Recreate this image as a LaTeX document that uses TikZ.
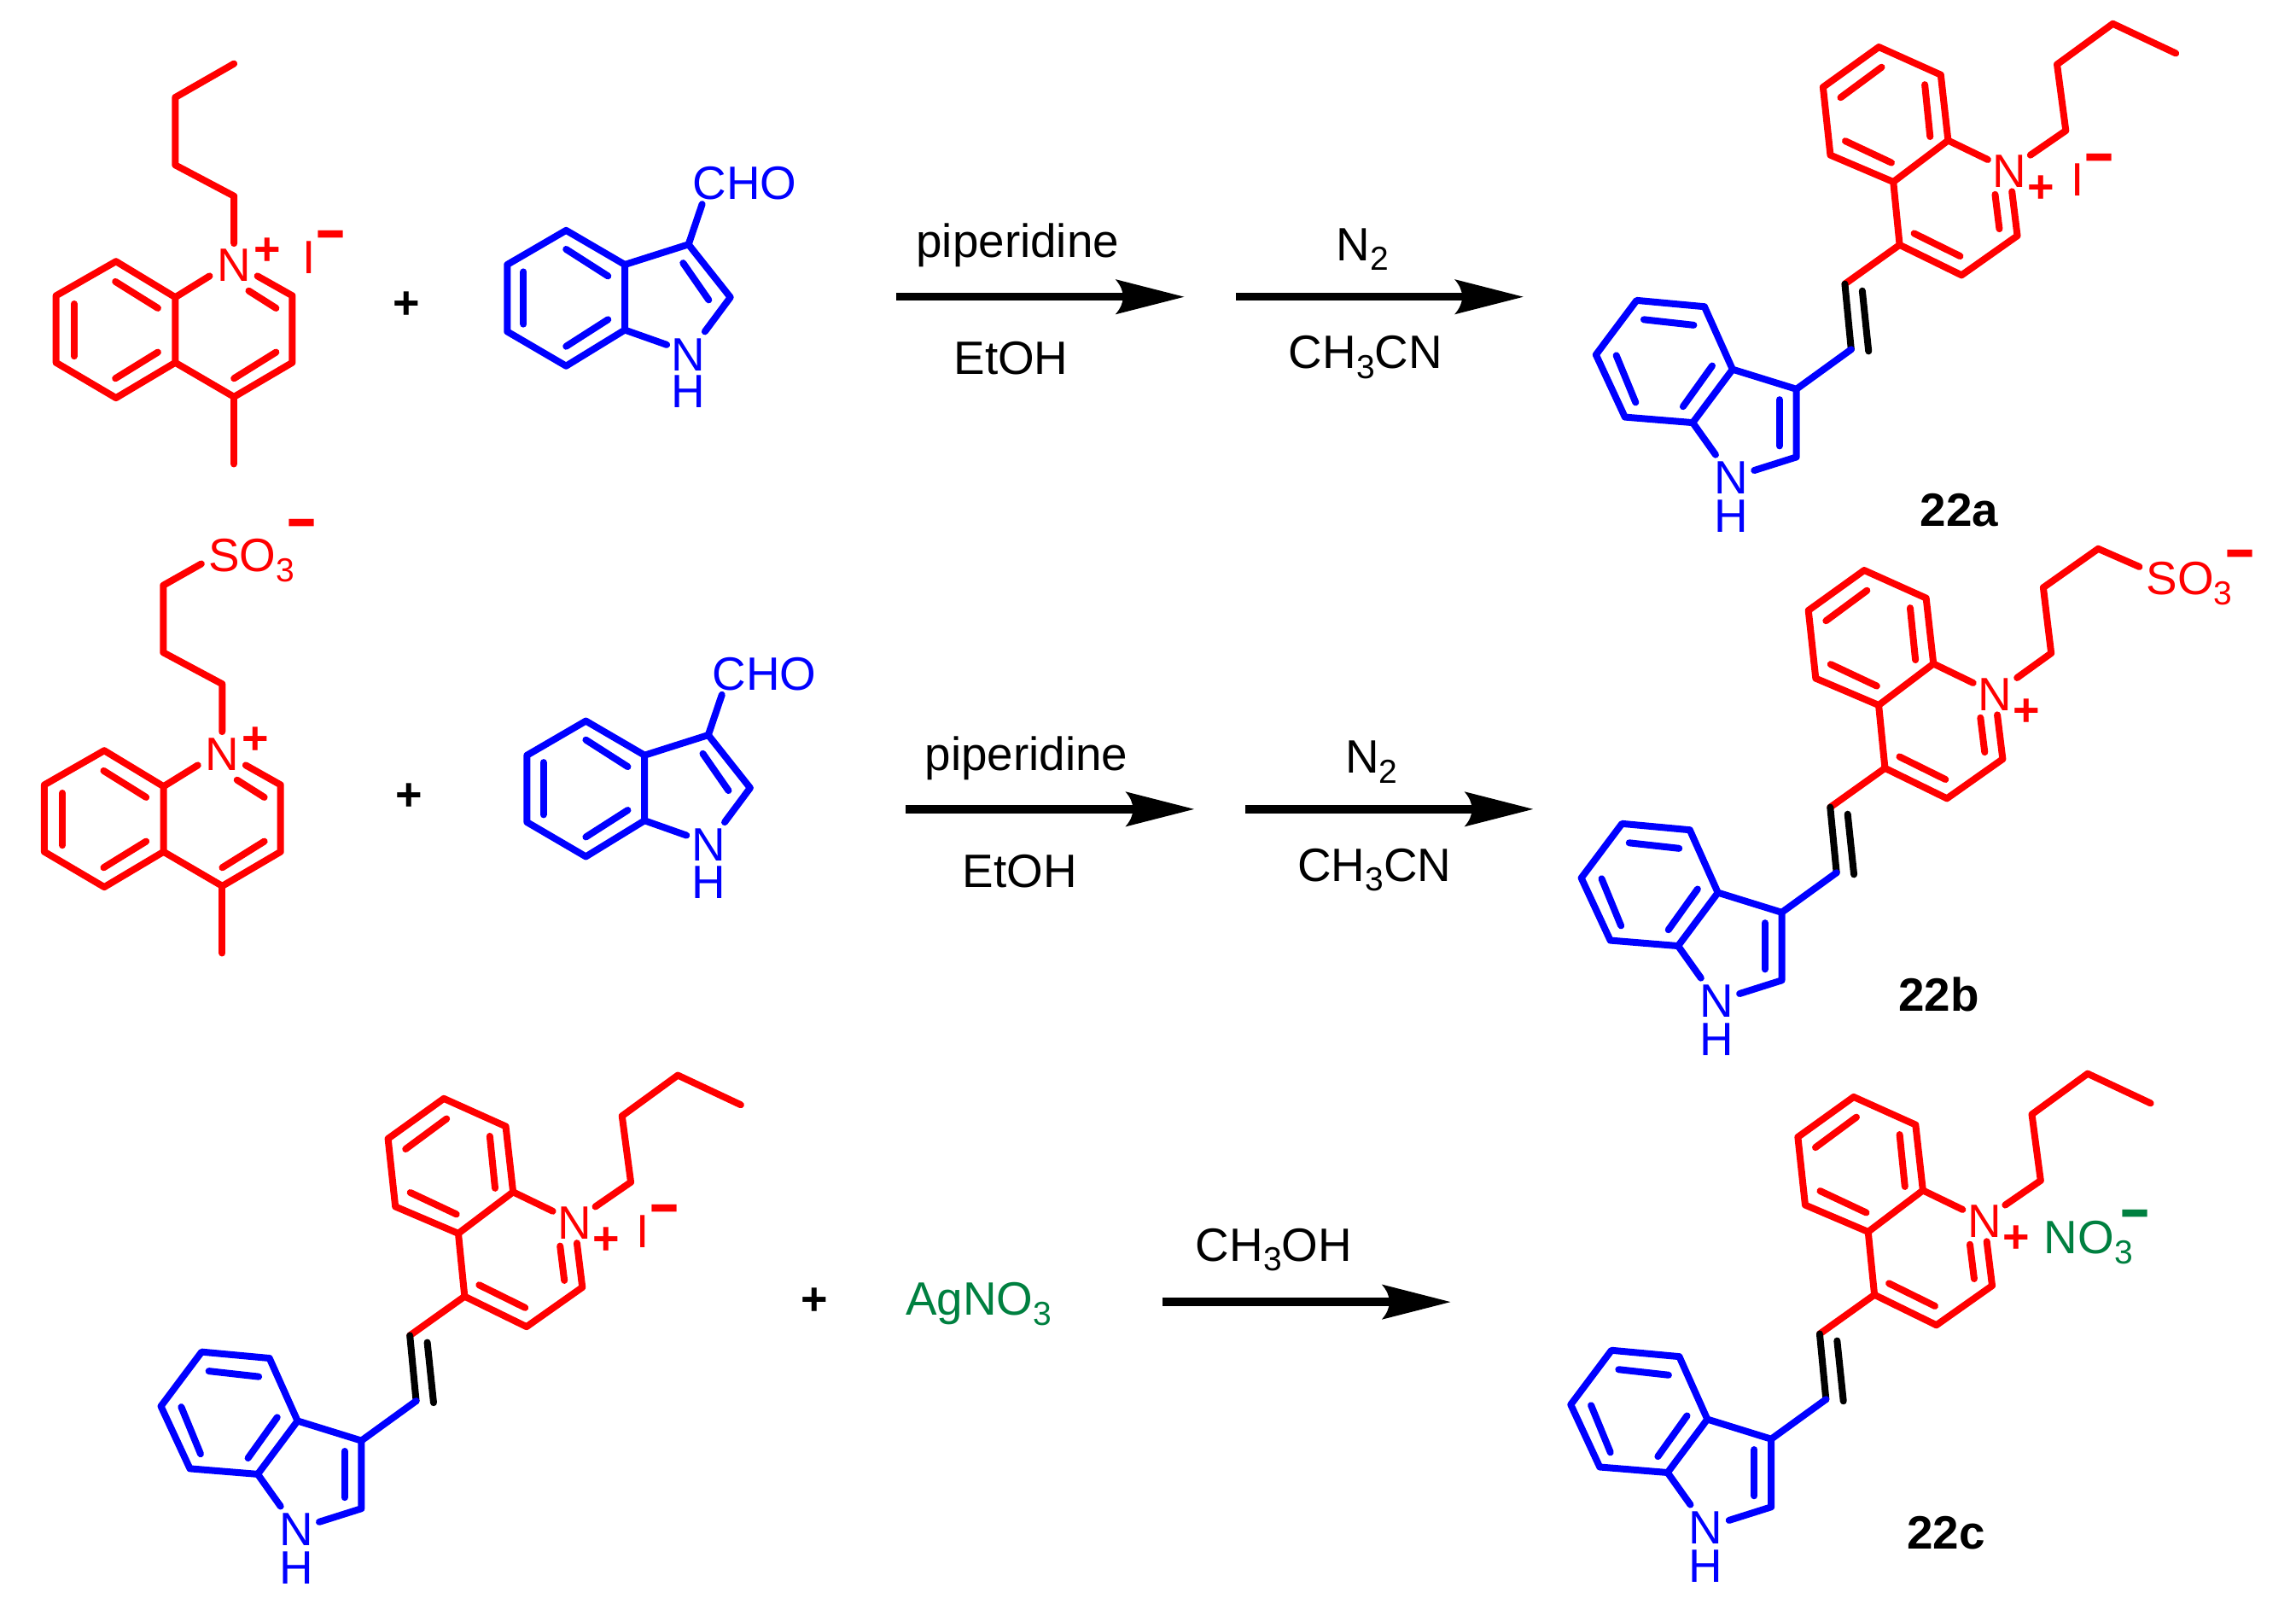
\documentclass[tikz,border=0pt]{standalone}
\usepackage{fontspec}
\usepackage{graphicx}
\setmainfont{Liberation Sans}
\usetikzlibrary{calc}
\definecolor{cred}{RGB}{255,0,0}
\definecolor{cblue}{RGB}{0,0,255}
\definecolor{cgreen}{RGB}{0,128,64}
\newcommand{\chsub}[1]{\raisebox{-5.8pt}{\fontsize{19.5}{19.5}\selectfont #1}}
\newcommand{\chminus}{\scalebox{1.12}[1.5]{−}}
\tikzset{
 rb/.style={draw=cred,line width=4pt,line cap=round,line join=round},
 bb/.style={draw=cblue,line width=4pt,line cap=round,line join=round},
 kb/.style={draw=black,line width=4pt,line cap=round,line join=round},
 lab/.style={inner sep=0pt,outer sep=0pt,anchor=base,yshift=-9.8pt,font=\fontsize{27.4}{27.4}\selectfont},
 rlab/.style={lab,text=cred},
 blab/.style={lab,text=cblue},
 klab/.style={lab,text=black},
 glab/.style={lab,text=cgreen},
 nlab/.style={inner sep=0pt,anchor=base,yshift=-9.8pt,font=\bfseries\fontsize{27.4}{27.4}\selectfont},
 chg/.style={inner sep=0pt,anchor=base,yshift=-9pt,font=\bfseries\fontsize{27}{27}\selectfont},
 chm/.style={inner sep=0pt,anchor=base,yshift=-12.9pt,font=\bfseries\fontsize{26}{26}\selectfont},
 rxn/.style={draw=black,line width=4.7pt},
}
% arrow from named start to named tip
\newcommand{\rxnarrow}[2]{%
 \draw[rxn] (#1) -- ($(#2)+(-38,0)$);
 \fill[black] (#2) -- ($(#2)+(-47,-12)$) .. controls ($(#2)+(-40,-4)$) and ($(#2)+(-40,4)$) .. ($(#2)+(-47,12)$) -- cycle;
}
% quinolinium-vinyl-indole, drawn at the coordinates of 22a
\newcommand{\conj}{%
 \coordinate (a) at (1283.1,32.1); \coordinate (b) at (1325.4,51.1);
 \coordinate (c) at (1330.4,95.9); \coordinate (d) at (1293,124.2);
 \coordinate (e) at (1250,105.9); \coordinate (f) at (1245,59.5);
 \coordinate (g) at (1297.3,167.2); \coordinate (h) at (1339.6,187.9);
 \coordinate (i) at (1377.7,161);
 \coordinate (v1) at (1259.9,193.9); \coordinate (v2) at (1264.2,238.6);
 \coordinate (w) at (1226.8,265.7); \coordinate (x) at (1183.2,252.2);
 \coordinate (y) at (1156,288.6); \coordinate (z) at (1109.7,284.8);
 \coordinate (p) at (1089.9,242.2); \coordinate (q) at (1117.7,205.1);
 \coordinate (r) at (1164,209.4); \coordinate (s) at (1226.8,312.1);
 \node[rlab] (Nq) at (1372.4,116.6) {N};
 \node[blab] (Ni) at (1182.2,326) {N};
 \node[blab] (Hi) at (1182.2,352) {H};
 \path[rb] (a)--(b)--(c)--(d)--(e)--(f)--cycle;
 \path[rb] (d)--(g)--(h)--(i)--(1374,130.8);
 \path[rb] (c)--(1357.5,109);
 \path[rb] (1362.5,132.8)--(1365.4,156.3);
 \path[rb] (1285,45.9)--(1257,66.6);
 \path[rb] (1314.5,57.8)--(1318.1,93.3);
 \path[rb] (1291.7,111.1)--(1260.2,96.3);
 \path[rb] (1338.6,174.9)--(1307.2,159.4);
 \path[rb] (g)--(v1);
 \path[kb] (v1)--(v2);
 \path[kb] (1271.8,198.6)--(1276.1,239.8);
 \path[bb] (v2)--(w)--(x)--(y)--(z)--(p)--(q)--(r)--(x);
 \path[bb] (w)--(s)--(1198,321.2);
 \path[bb] (y)--(1171.6,310.5);
 \path[bb] (1156.7,222)--(1122.6,218.2);
 \path[bb] (1103.8,242.7)--(1117,274.8);
 \path[bb] (1169.3,249.8)--(1149.4,277.6);
 \path[bb] (1215.3,272.9)--(1215.3,304.5);
}
% 4-methylquinolinium ring at the coordinates of reactant 1
\newcommand{\lepid}{%
 \coordinate (a) at (79.2,178.5); \coordinate (b) at (119.7,203);
 \coordinate (c) at (119.7,247.6); \coordinate (d) at (79.2,271.7);
 \coordinate (e) at (38.3,247.6); \coordinate (f) at (38.3,201.9);
 \coordinate (g) at (159.8,271); \coordinate (h) at (199.6,247.6);
 \coordinate (i) at (199.6,201.9); \coordinate (me) at (159.8,316.8);
 \node[rlab] (Nq) at (159.8,180.7) {N};
 \path[rb] (a)--(b)--(c)--(d)--(e)--(f)--cycle;
 \path[rb] (c)--(g)--(h)--(i)--(175.8,188.5);
 \path[rb] (b)--(143.1,188.5);
 \path[rb] (g)--(me);
 \path[rb] (50.6,207.5)--(50.6,243.2);
 \path[rb] (78.8,192.3)--(107.8,210.4);
 \path[rb] (78.8,258.4)--(107.8,240.5);
 \path[rb] (159.8,258.4)--(188.5,240.5);
 \path[rb] (169.9,198.6)--(188.5,210.4);
}
% indole-3-carbaldehyde at the coordinates of reactant 1
\newcommand{\indald}{%
 \coordinate (a) at (386.6,157.3); \coordinate (b) at (426.7,180.7);
 \coordinate (c) at (470.2,166.9); \coordinate (d) at (498.8,203);
 \coordinate (e) at (426.7,225.3); \coordinate (f) at (386.6,249.9);
 \coordinate (g) at (346.4,226.4); \coordinate (h) at (346.4,180.7);
 \node[blab] (Ni) at (470.2,241.6) {N};
 \node[blab] (Hi) at (470.2,267) {H};
 \node[blab] (cho) at (508.5,124.9) {CHO};
 \path[bb] (a)--(b)--(e)--(f)--(g)--(h)--cycle;
 \path[bb] (b)--(c)--(d)--(481.4,226.4);
 \path[bb] (e)--(455.3,235.4);
 \path[bb] (c)--(479.5,139.4);
 \path[bb] (357.6,185.6)--(357.6,221.3);
 \path[bb] (386.6,170.2)--(415.2,188.5);
 \path[bb] (386.6,236.5)--(415.2,218.2);
 \path[bb] (466.5,179.6)--(484,204.8);
}
\newcommand{\butylr}{%
 \coordinate (j) at (1410.8,89.2); \coordinate (k) at (1404.8,44);
 \coordinate (l) at (1442.9,16.2); \coordinate (m) at (1485.9,36.4);
 \path[rb] (1386.6,105.9)--(j)--(k)--(l)--(m);
}
\begin{document}
\begin{tikzpicture}[x=0.8578pt,y=-0.8578pt]
\useasboundingbox (0,0) rectangle (1568,1103.4);
% reaction 1
\begin{scope}
 \lepid
 \coordinate (b0) at (159.8,133.9); \coordinate (b1) at (119.7,112.7);
 \coordinate (b2) at (119.7,66.5); \coordinate (b3) at (159.8,43.5);
 \path[rb] (159.8,166.2)--(b0)--(b1)--(b2)--(b3);
 \node[chg,text=cred] (p1) at (182.5,170.7) {+};
 \node[rlab] (i1) at (210.8,175.6) {I};
 \node[chm,text=cred] (m1) at (225.6,160.2) {\chminus};
 \node[chg] (plus1) at (277.7,207.5) {+};
 \indald
\end{scope}
\coordinate (r1s) at (612,202.7); \coordinate (r1e) at (808.7,202.7);
\coordinate (r1t) at (843.9,202.7); \coordinate (r1f) at (1040.3,202.7);
\rxnarrow{r1s}{r1e}
\rxnarrow{r1t}{r1f}
\node[klab] (t1) at (695,164.6) {piperidine};
\node[klab] (t2) at (690.4,244.3) {EtOH};
\node[klab] (t3) at (930.5,166.5) {N\chsub{2}};
\node[klab] (t4) at (932.6,240.3) {CH\chsub{3}CN};
\begin{scope}
 \conj \butylr
 \node[chg,text=cred] (p2) at (1394,128) {+};
 \node[rlab] (i2) at (1418.7,122.5) {I};
 \node[chm,text=cred] (m2) at (1433.6,107.5) {\chminus};
 \node[nlab] (n22a) at (1338,347.8) {22a};
\end{scope}
% reaction 2
\begin{scope}[shift={(-8,334)}]
 \lepid
 \node[chg,text=cred] (p3) at (182.5,170.7) {+};
\end{scope}
\coordinate (s0) at (151.7,499.6); \coordinate (s1) at (151.7,467); \coordinate (s2) at (111.5,445.5);
\coordinate (s3) at (111.5,399.7); \coordinate (s4) at (137.5,385);
\path[rb] (s0)--(s1)--(s2)--(s3)--(s4);
\node[rlab] (so1) at (171.7,379) {SO\chsub{3}};
\node[chm,text=cred] (m3) at (206,357.2) {\chminus};
\node[chg] (plus2) at (279.5,542.7) {+};
\begin{scope}[shift={(13.5,335)}] \indald \end{scope}
\coordinate (r2s) at (618.5,552.5); \coordinate (r2e) at (815.5,552.5);
\coordinate (r2t) at (850.5,552.5); \coordinate (r2f) at (1047,552.5);
\rxnarrow{r2s}{r2e}
\rxnarrow{r2t}{r2f}
\node[klab] (t5) at (701,514.6) {piperidine};
\node[klab] (t6) at (696.4,594.3) {EtOH};
\node[klab] (t7) at (936.5,516.5) {N\chsub{2}};
\node[klab] (t8) at (938.6,590.3) {CH\chsub{3}CN};
\begin{scope}[shift={(-10,357.3)}]
 \conj
 \node[chg,text=cred] (p4) at (1394,128) {+};
\end{scope}
\coordinate (u0) at (1377.5,462.8); \coordinate (u1) at (1400.8,446); \coordinate (u2) at (1395.4,401.2);
\coordinate (u3) at (1432.9,374.7); \coordinate (u4) at (1461,387);
\path[rb] (u0)--(u1)--(u2)--(u3)--(u4);
\node[rlab] (so2) at (1495.1,394.8) {SO\chsub{3}};
\node[chm,text=cred] (m4) at (1529.7,378.3) {\chminus};
\node[nlab] (n22b) at (1324,679) {22b};
% reaction 3
\begin{scope}[shift={(-980,718)}]
 \conj \butylr
 \node[chg,text=cred] (p5) at (1394,128) {+};
 \node[rlab] (i3) at (1418.7,122.5) {I};
 \node[chm,text=cred] (m5) at (1433.6,107) {\chminus};
\end{scope}
\node[chg] (plus3) at (556.2,887.2) {+};
\node[glab] (ag) at (668.5,886.5) {AgNO\chsub{3}};
\coordinate (r3s) at (793.8,889); \coordinate (r3e) at (990.6,889);
\rxnarrow{r3s}{r3e}
\node[klab] (t9) at (869.9,849.6) {CH\chsub{3}OH};
\begin{scope}[shift={(-17.2,716.9)}]
 \conj \butylr
 \node[chg,text=cred] (p6) at (1394,128) {+};
\end{scope}
\node[glab] (no3) at (1426.3,844.6) {NO\chsub{3}};
\node[chm,text=cgreen] (m6) at (1458,828.7) {\chminus};
\node[nlab] (n22c) at (1329,1046) {22c};
\end{tikzpicture}
\end{document}
